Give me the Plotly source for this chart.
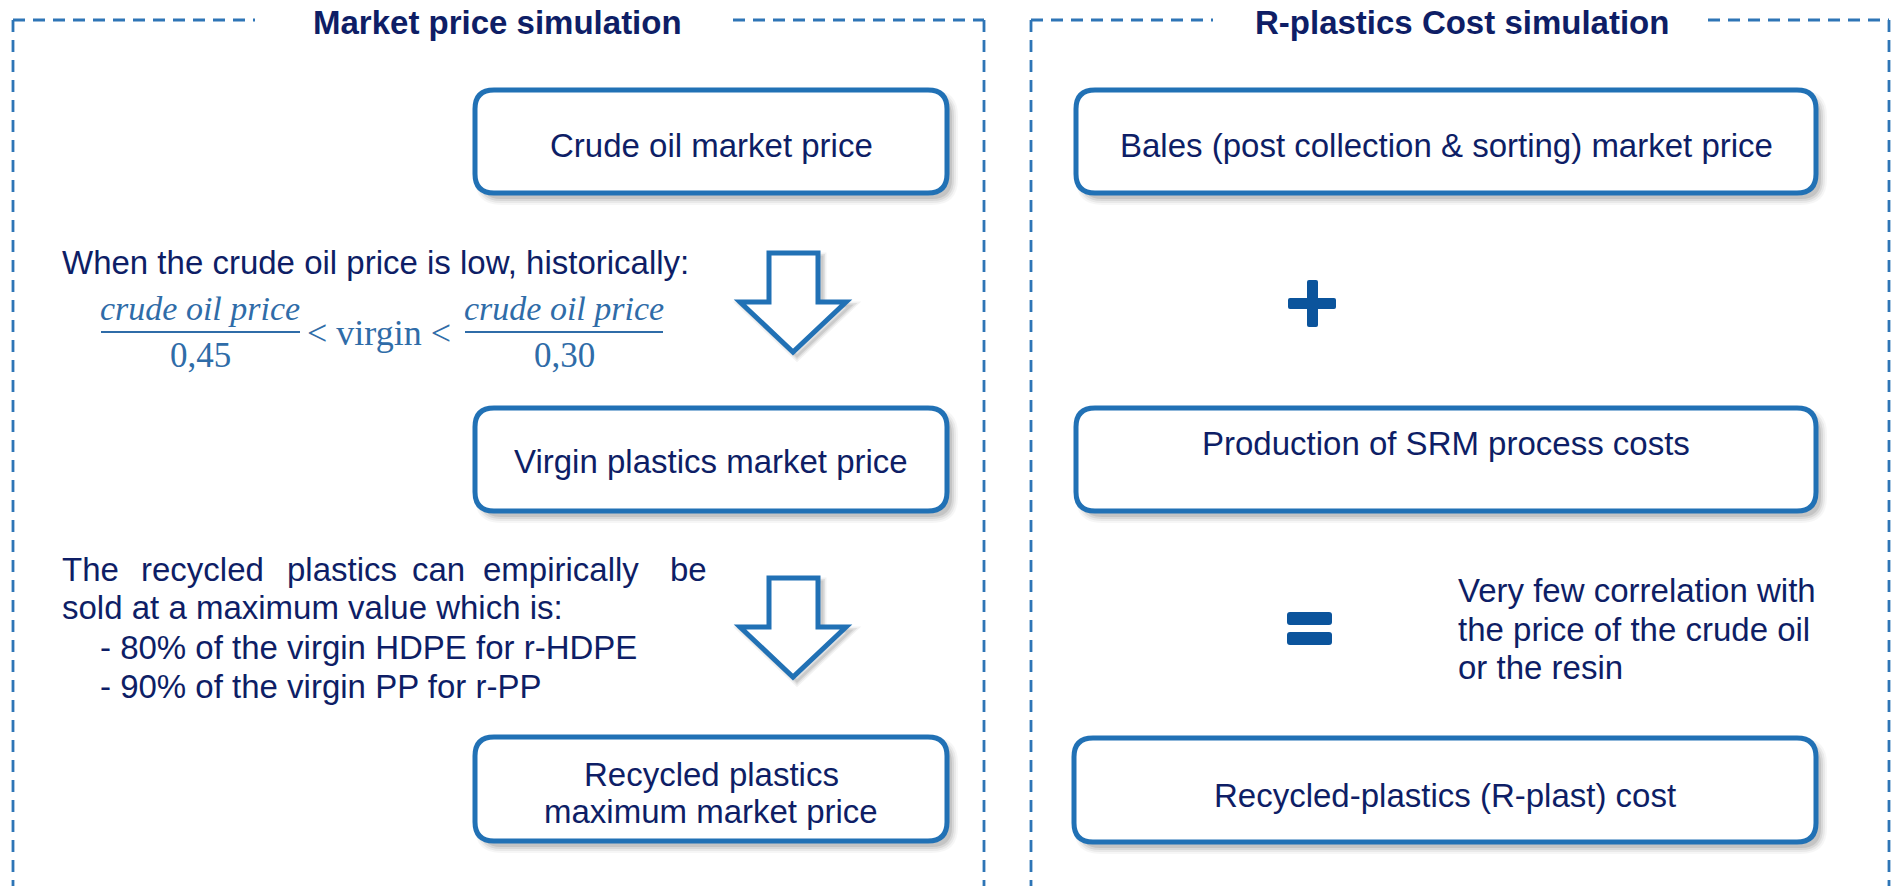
import plotly.graph_objects as go

W, H = 1894, 886

# ---- content ----
panel_titles = ["Market price simulation", "R-plastics Cost simulation"]
box_labels = [
    ["Crude oil market price"],
    ["Virgin plastics market price"],
    ["Recycled plastics", "maximum market price"],
    ["Bales (post collection & sorting) market price"],
    ["Production of SRM process costs"],
    ["Recycled-plastics (R-plast) cost"],
]
intro_text = "When the crude oil price is low, historically:"
formula_num = "crude oil price"
formula_den = ["0,45", "0,30"]
formula_mid = "&lt; virgin &lt;"
recycled_line1 = ["The", "recycled", "plastics", "can", "empirically", "be"]
recycled_lines = ["sold at a maximum value which is:",
                  "- 80% of the virgin HDPE for r-HDPE",
                  "- 90% of the virgin PP for r-PP"]
correlation_lines = ["Very few correlation with", "the price of the crude oil", "or the resin"]

# ---- geometry (pixels) ----
panel_x = [(13, 984), (1031, 1889)]
panel_gap = [(255, 733), (1213, 1708)]
panel_top = 20
title_x = [497, 1462]
title_y = 22

box_x0 = [475, 475, 475, 1076, 1076, 1074]
box_x1 = [947, 947, 947, 1816, 1816, 1816]
box_y0 = [90, 408, 737, 90, 408, 738]
box_y1 = [193, 511, 841, 193, 511, 842]
box_text_y = [[145], [461], [774, 811], [145], [443], [795]]

# ---- styles ----
NAVY = "#0E1E66"
BLUE = "#2171B5"
DASHC = "#2E75B6"
FORM = "#2F6CA8"
SIGN = "#0B549C"
SANS = "Liberation Sans, Arial, sans-serif"
SERIF = "Liberation Serif, Times New Roman, serif"
FS = 33

fig = go.Figure()
shapes = []
ann = []


def rrect(x0, y0, x1, y1, r):
    return (f"M {x0+r},{y0} L {x1-r},{y0} Q {x1},{y0} {x1},{y0+r} "
            f"L {x1},{y1-r} Q {x1},{y1} {x1-r},{y1} L {x0+r},{y1} "
            f"Q {x0},{y1} {x0},{y1-r} L {x0},{y0+r} Q {x0},{y0} {x0+r},{y0} Z")


def add_text(x, y, text, size=FS, color=NAVY, family=SANS, xanchor="center",
             bold=False, style="normal"):
    ann.append(dict(x=x, y=y, xref="x", yref="y", text=text, showarrow=False,
                    xanchor=xanchor, yanchor="middle",
                    font=dict(size=size, color=color, family=family,
                              weight="bold" if bold else "normal", style=style)))


dash = "12px,8px"
# ---- dashed panels ----
for (xl, xr), (g0, g1), tx, tt in zip(panel_x, panel_gap, title_x, panel_titles):
    for (a0, a1, b0, b1) in [(xl, g0, panel_top, panel_top), (g1, xr, panel_top, panel_top),
                             (xl, xl, panel_top, H), (xr, xr, panel_top, H)]:
        shapes.append(dict(type="line", x0=a0, x1=a1, y0=b0, y1=b1,
                           line=dict(color=DASHC, width=2.8, dash=dash)))
    add_text(tx, title_y, tt, bold=True)

# ---- boxes ----
for i, lab in enumerate(box_labels):
    x0, x1, y0, y1 = box_x0[i], box_x1[i], box_y0[i], box_y1[i]
    for k, a in [(6, 0.035), (4, 0.05), (2, 0.07), (0, 0.09)]:
        shapes.append(dict(type="path",
                           path=rrect(x0 + 6 - k, y0 + 6 - k, x1 + 5 + k, y1 + 6 + k, 20 + k),
                           fillcolor=f"rgba(0,0,0,{a})", line=dict(width=0), layer="below"))
    shapes.append(dict(type="path", path=rrect(x0, y0, x1, y1, 19),
                       fillcolor="white", line=dict(color=BLUE, width=5)))
    for line, ty in zip(lab, box_text_y[i]):
        add_text((x0 + x1) / 2, ty, line)

# ---- hollow arrows ----
arrow_tops = [253, 578]
for top in arrow_tops:
    sl, sr, hl, hr, tipx = 769, 818, 740, 846, 793
    sh, tip = top + 49, top + 99

    def apath(d, sl=sl, sr=sr, hl=hl, hr=hr, tipx=tipx, sh=sh, tip=tip, top=top):
        return (f"M {sl+d},{top+d} L {sr+d},{top+d} L {sr+d},{sh+d} L {hr+d},{sh+d} "
                f"L {tipx+d},{tip+d} L {hl+d},{sh+d} L {sl+d},{sh+d} Z")

    for wd, a in [(9, 0.05), (6, 0.07), (3, 0.09)]:
        shapes.append(dict(type="path", path=apath(4), fillcolor="rgba(0,0,0,0)",
                           line=dict(color=f"rgba(0,0,0,{a})", width=wd)))
    shapes.append(dict(type="path", path=apath(0), fillcolor="white",
                       line=dict(color=BLUE, width=5)))

# ---- plus and equals ----
shapes.append(dict(type="path", path=rrect(1288, 298, 1336, 309, 2), fillcolor=SIGN, line=dict(width=0)))
shapes.append(dict(type="path", path=rrect(1307, 280, 1318, 327, 2), fillcolor=SIGN, line=dict(width=0)))
shapes.append(dict(type="path", path=rrect(1287, 612, 1332, 625, 3), fillcolor=SIGN, line=dict(width=0)))
shapes.append(dict(type="path", path=rrect(1287, 632, 1332, 645, 3), fillcolor=SIGN, line=dict(width=0)))

# ---- left texts ----
add_text(60, 262, intro_text, xanchor="left")
frac_cx = [200, 564]
frac_x0 = [101, 465]
frac_x1 = [300, 663]
for cx, fx0, fx1, den in zip(frac_cx, frac_x0, frac_x1, formula_den):
    add_text(cx, 308, formula_num, size=34, color=FORM, family=SERIF, style="italic")
    add_text(cx, 355, den, size=35, color=FORM, family=SERIF)
    shapes.append(dict(type="line", x0=fx0, x1=fx1, y0=332, y1=332,
                       line=dict(color=FORM, width=2.2)))
add_text(379, 333, formula_mid, size=36, color=FORM, family=SERIF)

word_x = [60, 139, 285, 410, 481]
for wx, w in zip(word_x, recycled_line1[:-1]):
    add_text(wx, 569, w, xanchor="left")
add_text(709, 569, recycled_line1[-1], xanchor="right")
rec_x = [60, 98, 98]
rec_y = [607, 647, 686]
for rx, ry, t in zip(rec_x, rec_y, recycled_lines):
    add_text(rx, ry, t, xanchor="left")

# ---- right text ----
for ty, t in zip([590, 629, 667], correlation_lines):
    add_text(1456, ty, t, xanchor="left")

fig.update_layout(
    width=W, height=H, margin=dict(l=0, r=0, t=0, b=0),
    paper_bgcolor="white", plot_bgcolor="white",
    xaxis=dict(range=[0, W], visible=False, fixedrange=True),
    yaxis=dict(range=[H, 0], visible=False, fixedrange=True),
    showlegend=False, shapes=shapes, annotations=ann,
)

fig.write_html("out.html", config={"displayModeBar": False},
               post_script="document.body.style.margin='0';document.body.style.overflow='hidden';")
